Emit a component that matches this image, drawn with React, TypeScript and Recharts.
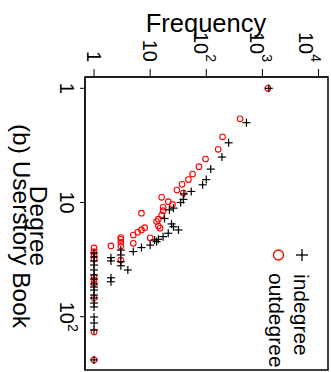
import { ReferenceArea, Scatter, ScatterChart, XAxis, YAxis } from "recharts";

// degree / frequency pairs
const inDegree = [1, 2, 3, 4, 5.1, 6.3, 7, 8, 8.4, 9.4, 10, 11.2, 11.6, 13.8, 15.4, 16.3, 17.4, 18.6, 19.9, 21, 21.3, 22, 23.6, 24.8, 26.9, 26.1, 28.8, 30.4, 32.5, 33, 35.8, 39, 45.6, 49.4, 27.7, 30, 32.5, 35.3, 39, 43.1, 46.8, 51.7, 55, 58.4, 64.6, 68.6, 75.9, 82.2, 100.6, 113.6, 130.8, 239];
const inFreq = [1300, 520, 250, 190, 120, 100, 86, 54, 40, 39, 35, 26, 22, 18, 24, 26, 32, 21, 17, 14, 12, 13, 10, 7, 5, 3, 3, 2, 2, 3, 3, 4, 2, 2, 1, 1, 1, 1, 1, 1, 1, 1, 1, 1, 1, 1, 1, 1, 1, 1, 1, 1];

const outDegree = [1, 1.85, 2.66, 3.42, 4.16, 4.86, 5.63, 6.3, 6.93, 7.78, 8.26, 9, 9.84, 10.4, 11, 11.8, 12.4, 12.9, 14, 14.7, 16.1, 16.8, 16.6, 17.4, 18.2, 19.3, 20.3, 20.4, 21, 22.3, 24.2, 22.8, 24, 31.9, 25, 26.9, 28.8, 31.2, 44.9, 47.7, 51.2, 68.6, 136, 239];
const outFreq = [1250, 400, 195, 163, 97, 74, 57, 48, 37, 30, 39, 16, 21, 25, 17, 17, 7, 16, 14, 13, 14, 15, 8, 7, 6, 5, 3, 10, 3, 3, 3, 5, 2, 3, 1, 1, 1, 1, 1, 1, 1, 1, 1, 1];

const freqTicks = [1, 10, 100, 1000, 10000];
const degreeTicks = [1, 10, 100];
const freqDomain = [0.69, 14750];
const degreeDomain = [0.796, 293];

const inData = inDegree.map((d, i) => ({ deg: d, freq: inFreq[i] }));
const outData = outDegree.map((d, i) => ({ deg: d, freq: outFreq[i] }));

const font = "'Liberation Sans', Arial, sans-serif";

function FreqTick({ x, payload }: any) {
  const v = payload.value;
  const exp = Math.round(Math.log10(v));
  return (
    <g transform={`translate(${x},62) rotate(90)`}>
      {exp < 2 ? (
        <text textAnchor="end" y={7} fontSize={20} fontFamily={font} fill="#000">{v}</text>
      ) : (
        <text textAnchor="end" y={12} fontSize={20} fontFamily={font} fill="#000">
          10<tspan dy={-12} fontSize={14}>{exp}</tspan>
        </text>
      )}
    </g>
  );
}

function DegreeTick({ y, payload }: any) {
  const v = payload.value;
  const exp = Math.round(Math.log10(v));
  return (
    <g transform={`translate(60,${y}) rotate(90)`}>
      {exp < 2 ? (
        <text textAnchor="middle" fontSize={20} fontFamily={font} fill="#000">{v}</text>
      ) : (
        <text textAnchor="middle" fontSize={20} fontFamily={font} fill="#000">
          10<tspan dy={-8} fontSize={14}>{exp}</tspan>
        </text>
      )}
    </g>
  );
}

function Plus({ cx, cy }: any) {
  return (
    <g stroke="#000" strokeWidth={1.2}>
      <line x1={cx - 4} y1={cy} x2={cx + 4} y2={cy} />
      <line x1={cx} y1={cy - 4} x2={cx} y2={cy + 4} />
    </g>
  );
}

function Ring({ cx, cy }: any) {
  return <circle cx={cx} cy={cy} r={2.8} fill="none" stroke="#ff0000" strokeWidth={1.1} />;
}

export default function App() {
  return (
    <div style={{ position: "absolute", left: 0, top: 0, width: 331, height: 372, background: "#fff" }}>
      <ScatterChart width={331} height={372} margin={{ top: 47, left: 55, right: 3, bottom: 2 }}>
        <XAxis
          type="number"
          dataKey="freq"
          scale="log"
          orientation="top"
          domain={freqDomain}
          ticks={freqTicks}
          allowDataOverflow
          height={30}
          tickSize={8}
          tick={<FreqTick />}
          axisLine={{ stroke: "#000" }}
          tickLine={{ stroke: "#000" }}
        />
        <YAxis
          type="number"
          dataKey="deg"
          scale="log"
          reversed
          domain={degreeDomain}
          ticks={degreeTicks}
          allowDataOverflow
          width={30}
          tickSize={5}
          tick={<DegreeTick />}
          axisLine={{ stroke: "#000" }}
          tickLine={{ stroke: "#000" }}
        />
        <ReferenceArea
          x1={freqDomain[0]}
          x2={freqDomain[1]}
          y1={degreeDomain[0]}
          y2={degreeDomain[1]}
          fill="none"
          stroke="#000"
          strokeWidth={1.5}
          fillOpacity={0}
        />
        <Scatter name="outdegree" data={outData} shape={<Ring />} isAnimationActive={false} />
        <Scatter name="indegree" data={inData} shape={<Plus />} isAnimationActive={false} />
      </ScatterChart>
      <svg width={331} height={372} style={{ position: "absolute", left: 0, top: 0, pointerEvents: "none" }}>
        <text x={206} y={31.5} textAnchor="middle" fontSize={25.5} fontFamily={font} fill="#000">Frequency</text>
        <g transform="translate(30,226) rotate(90)">
          <text textAnchor="middle" fontSize={24.5} fontFamily={font} fill="#000">Degree</text>
        </g>
        <g transform="translate(12.5,226) rotate(90)">
          <text textAnchor="middle" fontSize={24.5} fontFamily={font} fill="#000">(b) Userstory Book</text>
        </g>
        <g stroke="#000" strokeWidth={1.3}>
          <line x1={296} y1={255} x2={308} y2={255} />
          <line x1={302} y1={249} x2={302} y2={261} />
        </g>
        <circle cx={278.5} cy={255} r={5} fill="none" stroke="#ff0000" strokeWidth={1.3} />
        <g transform="translate(294,274) rotate(90)">
          <text fontSize={21} fontFamily={font} fill="#000">indegree</text>
        </g>
        <g transform="translate(269,273) rotate(90)">
          <text fontSize={21} fontFamily={font} fill="#000">outdegree</text>
        </g>
      </svg>
    </div>
  );
}
